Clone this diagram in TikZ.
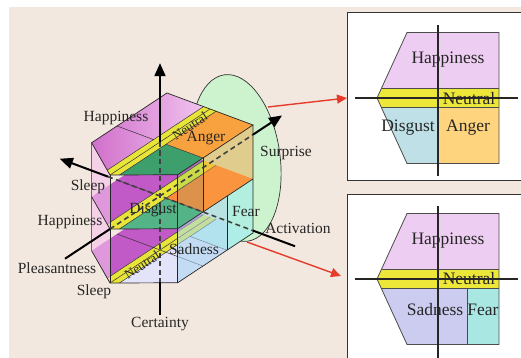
\documentclass[tikz,border=0pt]{standalone}
\usepackage{fontspec}
\setmainfont{Liberation Serif}
\usetikzlibrary{arrows.meta}
\definecolor{bgc}{HTML}{F2E8DF}
\definecolor{surp}{HTML}{CDF2CE}
\definecolor{hapTa}{HTML}{D070CB}
\definecolor{hapTb}{HTML}{F1C3EE}
\definecolor{hapM}{HTML}{C15AC6}
\definecolor{neu}{HTML}{E8E43A}
\definecolor{disT}{HTML}{3C9F6C}
\definecolor{disM}{HTML}{55B487}
\definecolor{angT}{HTML}{F8A13F}
\definecolor{angM}{HTML}{FF8A3E}
\definecolor{sadB}{HTML}{E3E3F9}
\definecolor{fearB}{HTML}{BFEFEA}
\definecolor{pinkF}{HTML}{F6C2EC}
\definecolor{blueF}{HTML}{A9D8F0}
\definecolor{cyanF}{HTML}{A8EEE6}
\definecolor{pHap}{HTML}{EDCDF1}
\definecolor{pNeu}{HTML}{EDE739}
\definecolor{pDis}{HTML}{BEE0E6}
\definecolor{pAng}{HTML}{FFD47F}
\definecolor{pSad}{HTML}{CBCCF0}
\definecolor{pFear}{HTML}{A9E7E2}
\definecolor{redarr}{HTML}{E63B2A}
\begin{document}
\begin{tikzpicture}[x=1pt,y=-1pt,
  edgeline/.style={draw=black!85, line width=0.7pt},
  thinline/.style={draw=black!80, line width=0.5pt},
  axisline/.style={line width=2pt, black},
  hiddenline/.style={line width=1.6pt, black!75, dash pattern=on 5pt off 3.5pt},
  axtip/.style={-{Triangle[length=13pt,width=11pt]}},
  redline/.style={redarr, line width=1.4pt, -{Triangle[length=10pt,width=9pt]}},
  lbl/.style={font=\fontsize{15.5}{18}\selectfont, inner sep=0pt, text=black!85},
  slbl/.style={font=\fontsize{13}{15}\selectfont, inner sep=0pt, text=black!85, rotate=33.4},
  plbl/.style={font=\fontsize{17.5}{20}\selectfont, inner sep=0pt, text=black!85},
  panelpoly/.style={draw=black!70, line width=0.8pt},
  paxis/.style={draw=black!85, line width=1.3pt},
  panelbox/.style={draw=black!80, line width=1.3pt, fill=white}]
\useasboundingbox (0,0) rectangle (521,358);
\clip (0,0) rectangle (521,358);
\fill[white] (0,0) rectangle (521,358);
\fill[bgc] (9,7) rectangle (521,358);

% ---- Surprise ellipse (behind the prism)
\fill[surp] (236,158) ellipse [x radius=44pt, y radius=84pt, rotate=8];
\begin{scope}[even odd rule]
  \clip (0,0) rectangle (521,358) (93,143) -- (167,93) -- (253,125) -- (253,233) -- (178,283) -- (110,283) -- (93,251) -- cycle;
  \draw[black!80, line width=0.7pt] (236,158) ellipse [x radius=44pt, y radius=84pt, rotate=8];
\end{scope}

% ---- prism in (s,t,z) coordinates
\begin{scope}[shift={(110,175)}, x={(100pt,66pt)}, y={(-43pt,16pt)}, z={(0pt,-108pt)}]
  % bottom plane (lower pattern)
  \fill[hapM] (0.037,.15,1) -- (.246,1,1) -- (1,1,1) -- (1,.15,1) -- cycle;
  \fill[neu] (0,0,1) -- (0.037,.15,1) -- (1,.15,1) -- (1,-.14,1) -- (0.034,-.14,1) -- cycle;
  \fill[sadB] (0.034,-.14,1) -- (.74,-.14,1) -- (.74,-1,1) -- (.246,-1,1) -- cycle;
  \fill[fearB] (.74,-.14,1) -- (1,-.14,1) -- (1,-1,1) -- (.74,-1,1) -- cycle;
  \draw[thinline] (0.037,.15,1) -- (1,.15,1) (0.034,-.14,1) -- (1,-.14,1)
     (0,0,1) -- (1,0,1) (.5,1,1) -- (.5,-1,1) (.74,-.14,1) -- (.74,-1,1);
  % mid plane (upper pattern)
  \fill[hapM] (0.037,.15,.5) -- (.246,1,.5) -- (1,1,.5) -- (1,.15,.5) -- cycle;
  \fill[neu] (0,0,.5) -- (0.037,.15,.5) -- (1,.15,.5) -- (1,-.14,.5) -- (0.034,-.14,.5) -- cycle;
  \fill[disM] (0.034,-.14,.5) -- (.5,-.14,.5) -- (.5,-1,.5) -- (.246,-1,.5) -- cycle;
  \fill[angM] (.5,-.14,.5) -- (1,-.14,.5) -- (1,-1,.5) -- (.5,-1,.5) -- cycle;
  \draw[thinline] (0.037,.15,.5) -- (1,.15,.5) (0.034,-.14,.5) -- (1,-.14,.5)
     (.5,1,.5) -- (.5,.15,.5) (.5,-.14,.5) -- (.5,-1,.5);
  % translucent side faces
  \fill[pinkF, opacity=.6] (0,0,0) -- (.246,1,0) -- (.246,1,1) -- (0,0,1) -- cycle;
  \fill[angT, opacity=.45] (.5,-1,0) -- (1,-1,0) -- (1,-1,.5) -- (.5,-1,.5) -- cycle;
  \fill[disM, opacity=.2] (.246,-1,0) -- (.5,-1,0) -- (.5,-1,.5) -- (.246,-1,.5) -- cycle;
  \fill[blueF, opacity=.55] (.246,-1,.5) -- (.74,-1,.5) -- (.74,-1,1) -- (.246,-1,1) -- cycle;
  \fill[cyanF, opacity=.7] (.74,-1,.5) -- (1,-1,.5) -- (1,-1,1) -- (.74,-1,1) -- cycle;
  % top face (upper pattern)
  \shade[left color=hapTa, right color=hapTb] (0.037,.15,0) -- (.246,1,0) -- (1,1,0) -- (1,.15,0) -- cycle;
  \fill[neu] (0,0,0) -- (0.037,.15,0) -- (1,.15,0) -- (1,-.14,0) -- (0.034,-.14,0) -- cycle;
  \fill[disT] (0.034,-.14,0) -- (.5,-.14,0) -- (.5,-1,0) -- (.246,-1,0) -- cycle;
  \fill[angT] (.5,-.14,0) -- (1,-.14,0) -- (1,-1,0) -- (.5,-1,0) -- cycle;
  \draw[thinline] (0.037,.15,0) -- (1,.15,0) (0.034,-.14,0) -- (1,-.14,0)
     (0,0,0) -- (1,0,0) (.5,1,0) -- (.5,.15,0) (.5,-.14,0) -- (.5,-1,0);
  % edges
  \draw[edgeline] (0,0,0) -- (.246,1,0) -- (1,1,0) -- (1,-1,0) -- (.246,-1,0) -- cycle;
  \draw[edgeline] (.246,1,0) -- (.246,1,1) -- (0,0,1) -- (.246,-1,1) -- (1,-1,1) -- (1,-1,0);
  \draw[edgeline] (0,0,0) -- (0,0,1) (.246,-1,0) -- (.246,-1,1);
  \draw[edgeline] (.246,1,.5) -- (0,0,.5) -- (.246,-1,.5) -- (1,-1,.5);
  \draw[edgeline] (.5,-1,0) -- (.5,-1,.5) (.74,-1,.5) -- (.74,-1,1);
  % axis coordinates
  \coordinate (cTip) at (.5,0,-.73);
  \coordinate (cIn) at (.5,0,0);
  \coordinate (cOut) at (.5,0,1.3);
  \coordinate (cEnd) at (.5,0,1.603);
  \coordinate (pTail) at (-.45,0,.5);
  \coordinate (pIn) at (0,0,.5);
  \coordinate (pOut) at (1.43,0,.5);
  \coordinate (pTip) at (1.72,0,.5);
  \coordinate (aTip) at (.5,2.33,.5);
  \coordinate (aIn) at (.5,1.21,.5);
  \coordinate (aOut) at (.5,-2.16,.5);
  \coordinate (aEnd) at (.5,-3.14,.5);
\end{scope}

% ---- axes
\draw[hiddenline] (cIn) -- (cOut);
\draw[hiddenline] (pIn) -- (pOut);
\draw[hiddenline] (aIn) -- (aOut);
\draw[axisline, axtip] (cIn) -- (cTip);
\draw[axisline] (cOut) -- (cEnd);
\draw[axisline] (pTail) -- (pIn);
\draw[axisline, axtip] (pOut) -- (pTip);
\draw[axisline, axtip] (aIn) -- (aTip);
\draw[axisline] (aOut) -- (aEnd);

% ---- labels of the 3D figure
\node[lbl] (hap1) at (116,118) {Happiness};
\node[slbl] (neu1) at (190,126) {Neutral};
\node[lbl] (ang) at (206,138) {Anger};
\node[lbl] (surpl) at (286,153) {Surprise};
\node[lbl] (slp1) at (88,187) {Sleep};
\node[lbl] (hap2) at (70,222) {Happiness};
\node[lbl] (dis) at (153,210) {Disgust};
\node[lbl] (fear) at (246,211) {Fear};
\node[lbl] (act) at (298,228) {Activation};
\node[lbl] (pls) at (57,268) {Pleasantness};
\node[slbl] (neu2) at (142,265) {Neutral};
\node[lbl] (sad) at (194,249) {Sadness};
\node[lbl] (slp2) at (94,292) {Sleep};
\node[lbl] (cert) at (160,324) {Certainty};

% ---- right panels
\node[panelbox, minimum width=200pt, minimum height=168pt, anchor=north west, inner sep=0pt] (boxA) at (347,12) {};
\node[panelbox, minimum width=200pt, minimum height=180pt, anchor=north west, inner sep=0pt] (boxB) at (347,194) {};

\begin{scope}[shift={(377,98)}, x={(122pt,0pt)}, y={(0pt,65.5pt)}]
  \fill[pHap] (0.037,.15) -- (.246,1) -- (1,1) -- (1,.15) -- cycle;
  \fill[pNeu] (0,0) -- (0.037,.15) -- (1,.15) -- (1,-.14) -- (0.034,-.14) -- cycle;
  \fill[pDis] (0.034,-.14) -- (.5,-.14) -- (.5,-1) -- (.246,-1) -- cycle;
  \fill[pAng] (.5,-.14) -- (1,-.14) -- (1,-1) -- (.5,-1) -- cycle;
  \draw[panelpoly] (0,0) -- (.246,1) -- (1,1) -- (1,-1) -- (.246,-1) -- cycle;
  \draw[panelpoly] (0.037,.15) -- (1,.15) (0.034,-.14) -- (1,-.14) (.5,-.14) -- (.5,-1);
  \coordinate (ahL) at (-.18,0); \coordinate (ahR) at (1.156,0);
  \coordinate (avT) at (.5,1.115); \coordinate (avB) at (.5,-1.19);
\end{scope}
\draw[paxis] (ahL) -- (ahR);
\draw[paxis] (avT) -- (avB);
\node[plbl] (pa1) at (448,60) {Happiness};
\node[plbl] (pa2) at (469,98.5) {Neutral};
\node[plbl] (pa3) at (408,128) {Disgust};
\node[plbl] (pa4) at (468,128) {Anger};

\begin{scope}[shift={(377,279)}, x={(122pt,0pt)}, y={(0pt,65.5pt)}]
  \fill[pHap] (0.037,.15) -- (.246,1) -- (1,1) -- (1,.15) -- cycle;
  \fill[pNeu] (0,0) -- (0.037,.15) -- (1,.15) -- (1,-.14) -- (0.034,-.14) -- cycle;
  \fill[pSad] (0.034,-.14) -- (.74,-.14) -- (.74,-1) -- (.246,-1) -- cycle;
  \fill[pFear] (.74,-.14) -- (1,-.14) -- (1,-1) -- (.74,-1) -- cycle;
  \draw[panelpoly] (0,0) -- (.246,1) -- (1,1) -- (1,-1) -- (.246,-1) -- cycle;
  \draw[panelpoly] (0.037,.15) -- (1,.15) (0.034,-.14) -- (1,-.14) (.74,-.14) -- (.74,-1);
  \coordinate (bhL) at (-.18,0); \coordinate (bhR) at (1.156,0);
  \coordinate (bvT) at (.5,1.11); \coordinate (bvB) at (.5,-1.6);
\end{scope}
\draw[paxis] (bhL) -- (bhR);
\draw[paxis] (bvT) -- (bvB);
\node[plbl] (pb1) at (448,241) {Happiness};
\node[plbl] (pb2) at (469,279) {Neutral};
\node[plbl] (pb3) at (435,310) {Sadness};
\node[plbl] (pb4) at (483,310) {Fear};

% ---- red arrows
\coordinate (r1s) at (268,107);
\coordinate (r2s) at (247,242);
\draw[redline] (r1s) -- (boxA.west |- 0,98);
\draw[redline] (r2s) -- (341,276);
\end{tikzpicture}
\end{document}
